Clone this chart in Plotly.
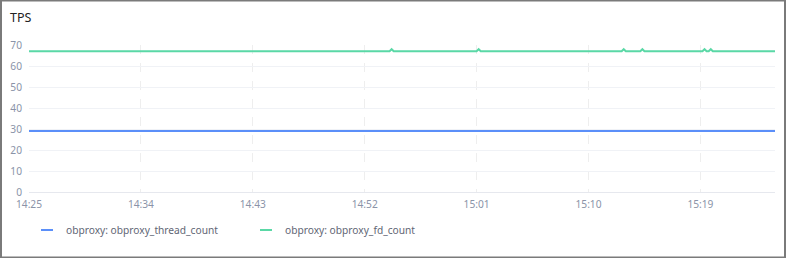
import plotly.graph_objects as go

# ---- data ----
thread_times = ["2024-01-01 14:25:00", "2024-01-01 15:25:00"]
thread_values = [29, 29]

fd_times = [
    "2024-01-01 14:25:00",
    "2024-01-01 14:54:00", "2024-01-01 14:54:10", "2024-01-01 14:54:20",
    "2024-01-01 15:01:00", "2024-01-01 15:01:10", "2024-01-01 15:01:20",
    "2024-01-01 15:12:40", "2024-01-01 15:12:50", "2024-01-01 15:13:00",
    "2024-01-01 15:14:10", "2024-01-01 15:14:20", "2024-01-01 15:14:30",
    "2024-01-01 15:19:10", "2024-01-01 15:19:20", "2024-01-01 15:19:30",
    "2024-01-01 15:19:40", "2024-01-01 15:19:50", "2024-01-01 15:20:00",
    "2024-01-01 15:25:00",
]
fd_values = [
    67,
    67, 68, 67,
    67, 68, 67,
    67, 68, 67,
    67, 68, 67,
    67, 68, 67,
    67, 68, 67,
    67,
]

tick_vals = ["2024-01-01 14:25", "2024-01-01 14:34", "2024-01-01 14:43", "2024-01-01 14:52",
             "2024-01-01 15:01", "2024-01-01 15:10", "2024-01-01 15:19"]
tick_text = ["14:25", "14:34", "14:43", "14:52", "15:01", "15:10", "15:19"]

series_names = ["obproxy: obproxy_thread_count", "obproxy: obproxy_fd_count"]
colors = ["#5B8FF9", "#5AD8A6"]

FONT = "Noto Sans"
FS = 10.2
W, H = 786, 258
ML, MR, MT, MB = 29, 11, 45, 66
PW, PH = W - ML - MR, H - MT - MB


def px_x(x):
    return (x - ML) / PW


def px_y(y):
    return (H - MB - y) / PH


fig = go.Figure()
fig.add_trace(go.Scatter(x=thread_times, y=thread_values, mode="lines",
                         line=dict(color=colors[0], width=2), name=series_names[0]))
fig.add_trace(go.Scatter(x=fd_times, y=fd_values, mode="lines",
                         line=dict(color=colors[1], width=2), name=series_names[1]))

# custom legend (short line sample + label), built from the series lists
legend_starts = [41, 260]
annotations = []
shapes = []
for name, c, x0 in zip(series_names, colors, legend_starts):
    shapes.append(dict(type="line", xref="paper", yref="paper",
                       x0=px_x(x0), x1=px_x(x0 + 12), y0=px_y(230), y1=px_y(230),
                       line=dict(color=c, width=2)))
    annotations.append(dict(text=name, xref="paper", yref="paper",
                            x=px_x(x0 + 23), y=px_y(230), xanchor="left", yanchor="middle",
                            showarrow=False,
                            font=dict(family=FONT, size=FS, color="#5f6675")))

# outer frame
shapes.append(dict(type="rect", xref="paper", yref="paper",
                   x0=px_x(1), x1=px_x(W - 1), y0=px_y(H - 0.5), y1=px_y(0.5),
                   line=dict(color="#7a7a7a", width=2), layer="above"))

fig.update_layout(
    width=W, height=H,
    margin=dict(l=ML, r=MR, t=MT, b=MB),
    paper_bgcolor="white", plot_bgcolor="white",
    font=dict(family=FONT, size=FS, color="#8a93a8"),
    title=dict(text="TPS", x=10 / W, xref="container", xanchor="left",
               y=1 - 18 / H, yref="container", yanchor="middle",
               font=dict(family=FONT, size=12.5, color="#222222")),
    showlegend=False,
    annotations=annotations,
    shapes=shapes,
    xaxis=dict(type="date", range=["2024-01-01 14:25", "2024-01-01 15:25"],
               tickvals=tick_vals, ticktext=tick_text,
               showgrid=True, gridcolor="#eeeeee", griddash="dash", gridwidth=1,
               zeroline=False, showline=True, linecolor="#e6e8ee", linewidth=1,
               ticks="", ticklabelstandoff=3, tickfont=dict(size=FS, color="#8a93a8")),
    yaxis=dict(range=[0, 70], tickvals=[0, 10, 20, 30, 40, 50, 60, 70],
               showgrid=True, gridcolor="#f0f2f6", gridwidth=1,
               zeroline=False, showline=False, ticks="", ticklabelstandoff=6,
               tickfont=dict(size=FS, color="#8a93a8")),
)

fig.write_html("out.html")
